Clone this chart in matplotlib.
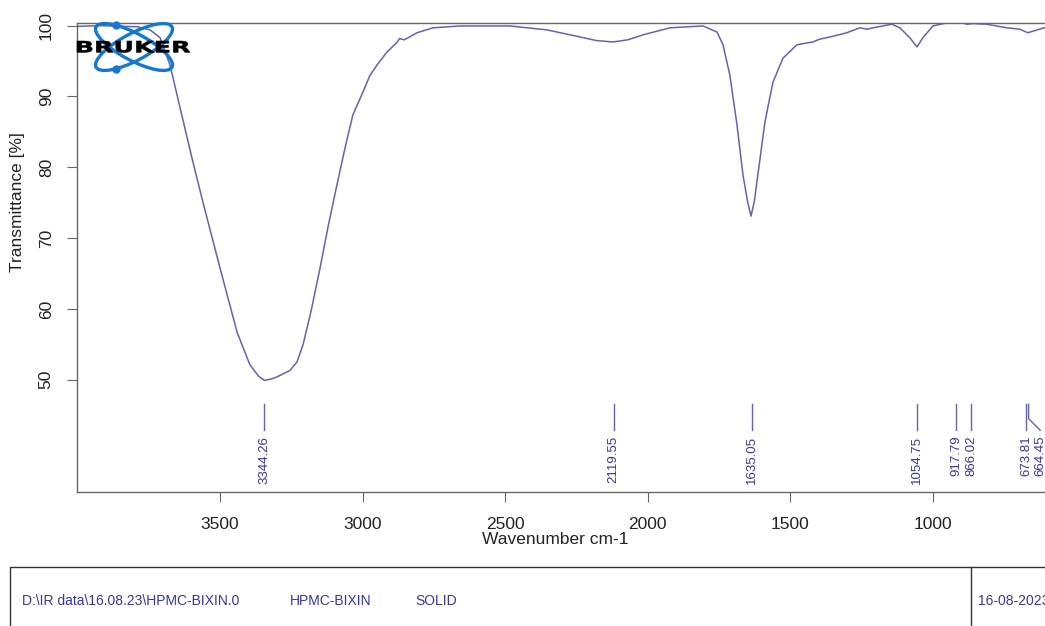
"""
FT-IR spectrum (Bruker OPUS style printout) - HPMC-BIXIN, solid sample
"""

import matplotlib
matplotlib.use("Agg")
import matplotlib.pyplot as plt
from matplotlib.patches import Ellipse, Rectangle, PathPatch
from matplotlib.lines import Line2D
from matplotlib.textpath import TextPath
from matplotlib.font_manager import FontProperties
from matplotlib.transforms import Affine2D
import numpy as np

plt.rcParams['font.family'] = ['Liberation Sans', 'DejaVu Sans']

# spectrum (cm-1, %T)
wavenumber = [4000, 3920, 3790, 3745, 3710, 3675, 3640, 3600, 3560, 3500,
              3440, 3395, 3365, 3344, 3320, 3300, 3255, 3230, 3209, 3180,
              3149, 3120, 3090, 3060, 3034, 2999, 2974, 2950, 2914, 2880,
              2870, 2855, 2840, 2809, 2753, 2658, 2483, 2353, 2248, 2180,
              2122, 2070, 2017, 1922, 1806, 1757, 1736, 1712, 1687, 1666,
              1650, 1638, 1626, 1614, 1589, 1561, 1526, 1477, 1450, 1421,
              1396, 1351, 1302, 1256, 1230, 1210, 1144, 1116, 1081, 1056,
              1035, 1000, 951, 905, 880, 860, 811, 741, 695, 667, 635, 600]
transmittance = [99.9, 100.0, 99.85, 99.4, 98.3, 94.4, 88.4, 81.6, 75.1, 65.8,
                 56.7, 52.1, 50.5, 49.9, 50.1, 50.4, 51.3, 52.5, 54.9, 59.8,
                 65.8, 71.8, 77.5, 83.0, 87.4, 90.6, 93.0, 94.4, 96.3, 97.6,
                 98.2, 98.0, 98.3, 99.0, 99.7, 99.96, 99.96, 99.4, 98.5, 97.9,
                 97.7, 98.0, 98.7, 99.7, 99.96, 99.1, 97.3, 93.0, 86.0, 78.9,
                 75.2, 73.1, 75.2, 78.9, 86.4, 92.0, 95.4, 97.3, 97.5, 97.7,
                 98.1, 98.5, 99.0, 99.7, 99.5, 99.7, 100.2, 99.7, 98.3, 97.0,
                 98.3, 99.96, 100.4, 100.5, 100.2, 100.3, 100.2, 99.7, 99.5, 99.0,
                 99.4, 99.8]

# peak picks printed under the trace
peaks = [3344.26, 2119.55, 1635.05, 1054.75, 917.79, 866.02, 673.81, 664.45]

x_ticks = [3500, 3000, 2500, 2000, 1500, 1000]
y_ticks = [50, 60, 70, 80, 90, 100]

footer = ["D:\\IR data\\16.08.23\\HPMC-BIXIN.0", "HPMC-BIXIN", "SOLID"]
footer_date = "16-08-2023"

line_color = '#6262b8'
label_color = '#3535aa'
frame_color = '#666666'
W, H = 1045, 626


def fig_box(x0, y0, x1, y1):
    """pixel box (image coords, y down) -> figure fraction rect"""
    return [x0 / W, 1 - y1 / H, (x1 - x0) / W, (y1 - y0) / H]


fig = plt.figure(figsize=(W / 100, H / 100), dpi=100, facecolor='white')

ax = fig.add_axes(fig_box(77.4, 22.7, 1104, 492))
ax.plot(wavenumber, transmittance, color=line_color, lw=1.1)
ax.set_xlim(4000, 400)
ax.set_ylim(34.14, 100.42)
ax.set_xticks(x_ticks)
ax.set_yticks(y_ticks)
ax.tick_params(direction='out', length=7, width=0.8, colors=frame_color,
               labelcolor='#222222', labelsize=12.5)
ax.tick_params(axis='x', pad=11)
ax.tick_params(axis='y', pad=10)
for lab in ax.get_yticklabels():
    lab.set_rotation(90)
    lab.set_va('center')
for sp in ax.spines.values():
    sp.set_color(frame_color)
    sp.set_linewidth(1.0)

# peak markers, labels pushed apart when they would collide
min_gap = 50
prev = None
for wn in peaks:
    lab_x = wn if prev is None or prev - wn >= min_gap else prev - min_gap
    ax.plot([wn, wn, lab_x], [46.53, 44.5, 42.86], color=line_color, lw=1.0)
    ax.text(lab_x, 42.1, f"{wn:.2f}", rotation=90, ha='center', va='top',
            fontsize=9.5, color=label_color)
    prev = lab_x

fig.text(555 / W, 1 - 539 / H, "Wavenumber cm-1", ha='center', va='center',
         fontsize=12.5, color='#222222')
fig.text(18 / W, 1 - 202 / H, "Transmittance [%]", ha='center', va='center',
         rotation=90, fontsize=12.5, color='#222222')

# footer box
fig.add_artist(Rectangle((10 / W, 1 - 660 / H), 1100 / W, (660 - 567) / H,
                         transform=fig.transFigure, fill=False,
                         ec='#333333', lw=1.0))
fig.add_artist(Line2D([971 / W, 971 / W], [1 - 567 / H, 1 - 660 / H],
                      transform=fig.transFigure, color='#333333', lw=1.0))
for txt, xp in zip(footer, [22, 290, 415]):
    fig.text(xp / W, 1 - 601 / H, txt, ha='left', va='center',
             fontsize=10, color=label_color)
fig.text(978 / W, 1 - 601 / H, footer_date, ha='left', va='center',
         fontsize=10, color=label_color)

# Bruker logo (pixel units, y down)
lax = fig.add_axes(fig_box(70, 12, 200, 82))
lax.set_xlim(70, 200)
lax.set_ylim(82, 12)
lax.axis('off')
lax.patch.set_alpha(0)
logo_blue = '#1478d2'
cx, cy, a, b = 134, 47, 86, 27
t = np.linspace(0, 2 * np.pi, 400)
for ang in (28, -28):
    lax.add_patch(Ellipse((cx, cy), a, b, angle=ang, fill=False,
                          ec=logo_blue, lw=2.4))
    th = np.radians(ang)
    ex = cx + a / 2 * np.cos(t) * np.cos(th) - b / 2 * np.sin(t) * np.sin(th)
    ey = cy + a / 2 * np.cos(t) * np.sin(th) + b / 2 * np.sin(t) * np.cos(th)
    side = ey < cy if ang > 0 else ey > cy
    i = np.argmin(np.abs(ex - 116) + np.where(side, 0, 1e3))
    lax.plot(ex[i], ey[i], 'o', color=logo_blue, ms=5)

tp = TextPath((0, 0), "BRUKER", size=10,
              prop=FontProperties(family='DejaVu Sans', weight='bold'))
ext = tp.get_extents()
tr = (Affine2D().translate(-ext.x0, -ext.y0)
      .scale(113 / ext.width, -11.5 / ext.height).translate(77, 52.5))
lax.add_patch(PathPatch(tr.transform_path(tp), fc='black', ec='black', lw=0.4))

fig.savefig("out.png", dpi=100, facecolor='white')
plt.close(fig)
